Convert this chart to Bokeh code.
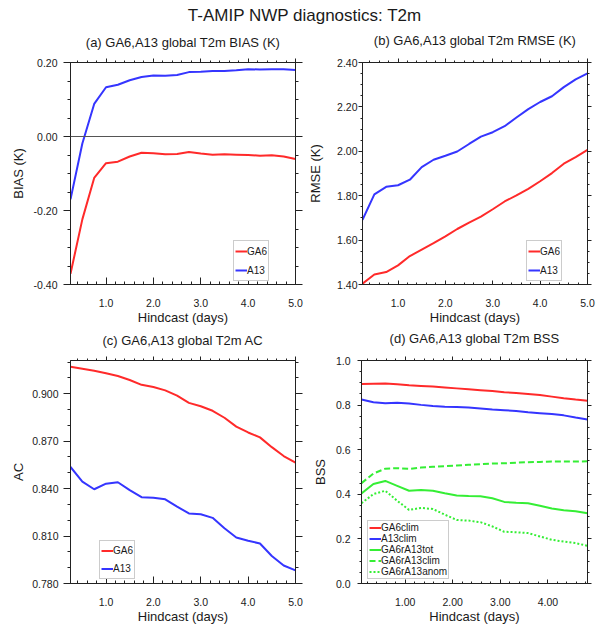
from bokeh.plotting import figure
from bokeh.layouts import column, row
from bokeh.models import (Legend, LegendItem, LinearAxis, FixedTicker, Span,
                          Range1d, PrintfTickFormatter)
from bokeh.embed import file_html
from bokeh.resources import INLINE
from bokeh.core.properties import value

FONT = "Liberation Sans"
TXT = "#1a1a1a"
FRAME = "#222222"
RED = "#ff2a2a"
BLUE = "#3535ff"
GREEN = "#35ee35"

main_title = "T-AMIP NWP diagnostics: T2m"
xlabel = "Hindcast (days)"

days = [0.25, 0.50, 0.75, 1.00, 1.25, 1.50, 1.75, 2.00, 2.25, 2.50,
        2.75, 3.00, 3.25, 3.50, 3.75, 4.00, 4.25, 4.50, 4.75, 5.00]
days_bss = [0.083, 0.333, 0.583, 0.833, 1.083, 1.333, 1.583, 1.833, 2.083, 2.333,
            2.583, 2.833, 3.083, 3.333, 3.583, 3.833, 4.083, 4.333, 4.583, 4.833]

bias_ga6 = [-0.371, -0.224, -0.112, -0.072, -0.068, -0.054, -0.044, -0.045, -0.048, -0.047,
            -0.042, -0.046, -0.049, -0.048, -0.049, -0.050, -0.052, -0.051, -0.054, -0.061]
bias_a13 = [-0.170, -0.019, 0.088, 0.133, 0.140, 0.152, 0.161, 0.165, 0.164, 0.166,
            0.174, 0.175, 0.177, 0.177, 0.179, 0.182, 0.181, 0.182, 0.182, 0.180]

rmse_ga6 = [1.404, 1.445, 1.456, 1.486, 1.528, 1.557, 1.586, 1.617, 1.650, 1.679,
            1.706, 1.739, 1.774, 1.801, 1.831, 1.865, 1.902, 1.944, 1.974, 2.006]
rmse_a13 = [1.691, 1.806, 1.840, 1.847, 1.872, 1.929, 1.962, 1.980, 1.999, 2.033,
            2.066, 2.086, 2.113, 2.152, 2.190, 2.222, 2.248, 2.289, 2.324, 2.351]

ac_ga6 = [0.9170, 0.9158, 0.9145, 0.9129, 0.9112, 0.9087, 0.9056, 0.9042, 0.9021, 0.8988,
          0.8942, 0.8921, 0.8892, 0.8848, 0.8792, 0.8755, 0.8724, 0.8662, 0.8606, 0.8564]
ac_a13 = [0.8537, 0.8444, 0.8396, 0.8431, 0.8440, 0.8390, 0.8346, 0.8342, 0.8332, 0.8286,
          0.8243, 0.8238, 0.8215, 0.8149, 0.8091, 0.8070, 0.8053, 0.7974, 0.7914, 0.7883]

bss_ga6clim = [0.895, 0.896, 0.897, 0.893, 0.889, 0.886, 0.883, 0.879, 0.875, 0.871,
               0.867, 0.863, 0.858, 0.854, 0.850, 0.845, 0.838, 0.831, 0.825, 0.820]
bss_a13clim = [0.825, 0.813, 0.808, 0.810, 0.807, 0.801, 0.796, 0.793, 0.792, 0.789,
               0.785, 0.780, 0.777, 0.774, 0.768, 0.764, 0.760, 0.754, 0.744, 0.735]
bss_tot = [0.404, 0.446, 0.460, 0.438, 0.416, 0.419, 0.416, 0.405, 0.395, 0.392,
           0.391, 0.382, 0.366, 0.362, 0.360, 0.349, 0.336, 0.328, 0.324, 0.315]
bss_clim = [0.450, 0.493, 0.515, 0.517, 0.514, 0.520, 0.523, 0.526, 0.529, 0.532,
            0.535, 0.538, 0.539, 0.542, 0.544, 0.545, 0.547, 0.547, 0.547, 0.548]
bss_anom = [0.360, 0.401, 0.416, 0.371, 0.330, 0.339, 0.334, 0.309, 0.285, 0.282,
            0.275, 0.256, 0.232, 0.230, 0.226, 0.211, 0.196, 0.188, 0.181, 0.169]

# tick values
x_ticks = [1.0, 2.0, 3.0, 4.0, 5.0]
x_ticks_d = [1.0, 2.0, 3.0, 4.0]
y_ticks_a = [-0.40, -0.20, 0.00, 0.20]
y_ticks_b = [1.40, 1.60, 1.80, 2.00, 2.20, 2.40]
y_ticks_c = [0.780, 0.810, 0.840, 0.870, 0.900]
y_ticks_d = [0.0, 0.2, 0.4, 0.6, 0.8, 1.0]


def minors(lo, hi, step):
    n = int(round((hi - lo) / step))
    return [round(lo + i * step, 6) for i in range(n + 1)]


def style_axis(ax, show_labels, tin, tout, standoff, fmt):
    ax.formatter = PrintfTickFormatter(format=fmt)
    ax.axis_line_color = FRAME
    ax.major_tick_line_color = FRAME
    ax.minor_tick_line_color = FRAME
    ax.major_tick_in = tin
    ax.major_tick_out = tout
    ax.minor_tick_in = tin // 2
    ax.minor_tick_out = tout // 2
    ax.major_label_text_font = FONT
    ax.major_label_standoff = standoff
    if show_labels:
        ax.major_label_text_color = TXT
        ax.major_label_text_font_size = "10.5px"
    else:
        ax.major_label_text_color = None
        ax.major_label_text_font_size = "1px"


def label_style(ax, text, size, standoff):
    ax.axis_label = text
    ax.axis_label_text_font = FONT
    ax.axis_label_text_font_size = size
    ax.axis_label_text_font_style = "normal"
    ax.axis_label_text_color = TXT
    ax.axis_label_standoff = standoff


def panel(title, ylabel, xr, yr, xt, xm, yt, ym, xfmt, yfmt, width, height,
          bl, br, bt, bb, tk, ystand, yals, title_gap):
    p = figure(width=width, height=height, x_range=Range1d(*xr), y_range=Range1d(*yr),
               output_backend="svg", toolbar_location=None, title_location=None,
               x_axis_location=None, y_axis_location=None,
               min_border_left=bl, min_border_right=br,
               min_border_top=bt, min_border_bottom=bb)
    p.grid.visible = False
    p.outline_line_color = FRAME
    p.background_fill_color = "white"
    p.border_fill_color = "white"

    xb = LinearAxis(ticker=FixedTicker(ticks=xt, minor_ticks=xm))
    style_axis(xb, True, tk, 0, 14, xfmt)
    label_style(xb, xlabel, "13px", 0)
    p.add_layout(xb, "below")

    # top axis: mirrored ticks, carries the panel title
    xa = LinearAxis(ticker=FixedTicker(ticks=xt, minor_ticks=xm))
    style_axis(xa, False, 0, 4, 0, xfmt)
    label_style(xa, title, "13px", title_gap)
    p.add_layout(xa, "above")

    yl = LinearAxis(ticker=FixedTicker(ticks=yt, minor_ticks=ym))
    style_axis(yl, True, 0, tk, ystand, yfmt)
    label_style(yl, ylabel, "13px", yals)
    p.add_layout(yl, "left")

    yrx = LinearAxis(ticker=FixedTicker(ticks=yt, minor_ticks=ym))
    style_axis(yrx, False, 0, tk, 0, yfmt)
    p.add_layout(yrx, "right")
    return p


def add_legend(p, items, loc, lh, spacing):
    lg = Legend(items=items, location=loc, orientation="vertical",
                padding=1, spacing=spacing, margin=0,
                label_height=lh, glyph_height=lh, glyph_width=12,
                label_standoff=0, label_width=0,
                label_text_font=FONT, label_text_font_size="10px",
                label_text_color=TXT,
                border_line_color="#9a9a9a", border_line_width=1,
                background_fill_color="white", background_fill_alpha=1.0)
    p.add_layout(lg, "center")


# ---------- main title ----------
pt = figure(width=597, height=25, x_range=Range1d(0, 1), y_range=Range1d(0, 1),
            output_backend="svg", toolbar_location=None, min_border=0,
            x_axis_location=None, y_axis_location=None)
pt.grid.visible = False
pt.outline_line_color = None
pt.text(x=[0.51], y=[0.384], text=[main_title], text_align="center",
        text_baseline="middle", text_font=value(FONT), text_font_size="17px",
        text_color=TXT)

# ---------- (a) ----------
pa = panel("(a) GA6,A13 global T2m BIAS (K)", "BIAS (K)", (0.25, 5.0), (-0.40, 0.20),
           x_ticks, minors(0.4, 4.8, 0.2), y_ticks_a, minors(-0.40, 0.20, 0.05),
           "%.1f", "%.2f", 305, 302, 70, 10, 37, 41, 7, 6, 5, 9)
pa.add_layout(Span(location=0.0, dimension="width", line_color="#555555", line_width=1))
ra1 = pa.line(days, bias_ga6, line_color=RED, line_width=2)
ra2 = pa.line(days, bias_a13, line_color=BLUE, line_width=2)
add_legend(pa, [LegendItem(label="GA6", renderers=[ra1]),
                LegendItem(label="A13", renderers=[ra2])], (163, 3), 18, 1)

# ---------- (b) ----------
pb = panel("(b) GA6,A13 global T2m RMSE (K)", "RMSE (K)", (0.25, 5.0), (1.40, 2.40),
           x_ticks, minors(0.4, 4.8, 0.2), y_ticks_b, minors(1.40, 2.40, 0.05),
           "%.1f", "%.2f", 292, 302, 57, 10, 37, 41, 4, 1, 11, 11)
rb1 = pb.line(days, rmse_ga6, line_color=RED, line_width=2)
rb2 = pb.line(days, rmse_a13, line_color=BLUE, line_width=2)
add_legend(pb, [LegendItem(label="GA6", renderers=[rb1]),
                LegendItem(label="A13", renderers=[rb2])], (164, 3), 18, 1)

# ---------- (c) ----------
pc = panel("(c) GA6,A13 global T2m AC", "AC", (0.25, 5.0), (0.780, 0.921),
           x_ticks, minors(0.4, 4.8, 0.2), y_ticks_c, minors(0.78, 0.92, 0.01),
           "%.1f", "%.3f", 305, 301, 70, 10, 30, 45, 7, 5, 3, 9)
rc1 = pc.line(days, ac_ga6, line_color=RED, line_width=2)
rc2 = pc.line(days, ac_a13, line_color=BLUE, line_width=2)
add_legend(pc, [LegendItem(label="GA6", renderers=[rc1]),
                LegendItem(label="A13", renderers=[rc2])], (29, 4), 17, 1)

# ---------- (d) ----------
pd_ = panel("(d) GA6,A13 global T2m BSS", "BSS", (0.083, 4.833), (0.0, 1.0),
            x_ticks_d, minors(0.2, 4.8, 0.2), y_ticks_d, minors(0.0, 1.0, 0.05),
            "%.2f", "%.1f", 292, 301, 56, 10, 32, 45, 4, 7, 5, 11)
rd1 = pd_.line(days_bss, bss_ga6clim, line_color=RED, line_width=2)
rd2 = pd_.line(days_bss, bss_a13clim, line_color=BLUE, line_width=2)
rd3 = pd_.line(days_bss, bss_tot, line_color=GREEN, line_width=2)
rd4 = pd_.line(days_bss, bss_clim, line_color=GREEN, line_width=2, line_dash="6 3")
rd5 = pd_.line(days_bss, bss_anom, line_color=GREEN, line_width=2, line_dash="2 2")
add_legend(pd_, [LegendItem(label="GA6clim", renderers=[rd1]),
                 LegendItem(label="A13clim", renderers=[rd2]),
                 LegendItem(label="GA6rA13tot", renderers=[rd3]),
                 LegendItem(label="GA6rA13clim", renderers=[rd4]),
                 LegendItem(label="GA6rA13anom", renderers=[rd5])], (6, 4), 11, 0)

layout = column(pt, row(pa, pb), row(pc, pd_))
open("out.html", "w").write(file_html(layout, INLINE))
